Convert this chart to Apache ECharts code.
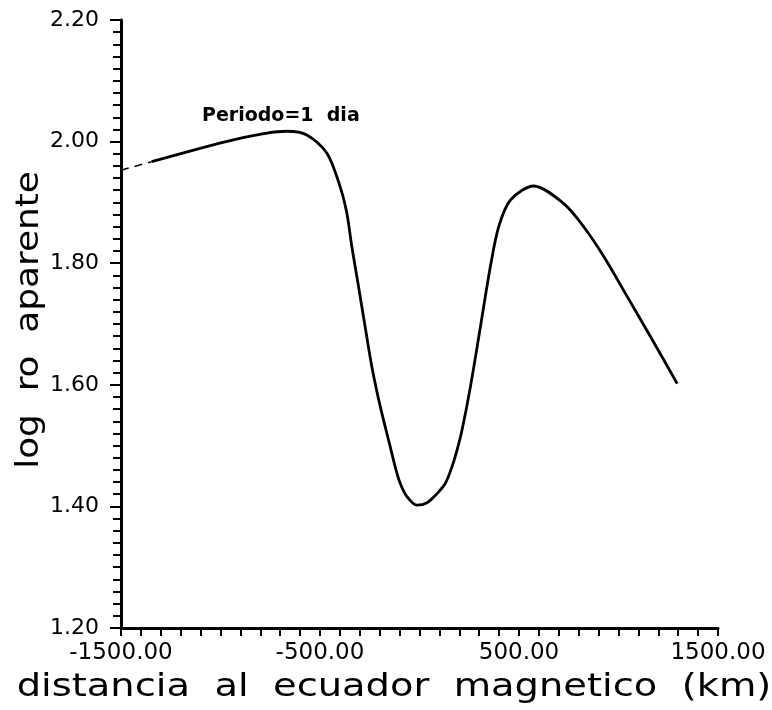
<!DOCTYPE html>
<html>
<head>
<meta charset="utf-8">
<script src="https://cdn.jsdelivr.net/npm/echarts@6/dist/echarts.min.js"></script>
<style>html,body{margin:0;padding:0;background:#fff}#c{width:772px;height:710px}</style>
</head>
<body>
<div id="c"></div>
<script>
// distance to magnetic equator (km)
const distDashed = [-1500, -1346];
const valDashed  = [1.953, 1.967];
const dist = [-1346, -1103, -935, -767, -667, -566, -465, -399, -365, -340, -306, -273, -239, -197, -147, -122, -97, -63, -13, 38, 88, 130, 163, 189, 214, 256, 306, 356, 398, 457, 574, 725, 825, 926, 1044, 1161, 1295];
const logRo = [1.967, 1.989, 2.003, 2.014, 2.017, 2.011, 1.981, 1.926, 1.882, 1.827, 1.761, 1.695, 1.629, 1.564, 1.498, 1.465, 1.438, 1.416, 1.402, 1.406, 1.421, 1.438, 1.465, 1.493, 1.526, 1.597, 1.695, 1.794, 1.860, 1.904, 1.927, 1.898, 1.860, 1.811, 1.745, 1.679, 1.602];
const xMajor = [-1500, -500, 500, 1500];
const yTicks = [1.20, 1.40, 1.60, 1.80, 2.00, 2.20];
const annotation = 'Periodo=1  dia';
const xName = 'distancia  al  ecuador  magnetico  (km)';
const yName = 'log  ro  aparente';

const chart = echarts.init(document.getElementById('c'), null, {renderer: 'canvas'});
const font = '"DejaVu Sans", sans-serif';
chart.setOption({
  animation: false,
  backgroundColor: '#fff',
  grid: {left: 121, right: 54, top: 20, bottom: 82, containLabel: false},
  title: {
    text: annotation,
    left: 197, top: 102,
    textStyle: {fontFamily: font, fontSize: 19, fontWeight: 'bold', color: '#000'}
  },
  graphic: [
    {
      type: 'text', x: 394, y: 688, scaleX: 1.2,
      style: {text: xName, fontFamily: font, fontSize: 32, fill: '#000', textAlign: 'center', textVerticalAlign: 'middle'}
    },
    {
      type: 'text', x: 30, y: 320, rotation: Math.PI / 2, scaleX: 1.12,
      style: {text: yName, fontFamily: font, fontSize: 32, fill: '#000', textAlign: 'center', textVerticalAlign: 'middle'}
    }
  ],
  xAxis: {
    type: 'value', min: -1500, max: 1500, interval: 100,
    axisLine: {show: true, onZero: false, lineStyle: {color: '#000', width: 3}},
    axisTick: {show: true, inside: false, length: 8, lineStyle: {color: '#000', width: 2}},
    axisLabel: {
      margin: 14, color: '#000', fontFamily: font, fontSize: 23,
      formatter: v => xMajor.indexOf(Math.round(v)) >= 0 ? String(v.toFixed(2)) : ''
    },
    splitLine: {show: false}
  },
  yAxis: {
    type: 'value', min: 1.2, max: 2.2, interval: 0.2,
    axisLine: {show: true, onZero: false, lineStyle: {color: '#000', width: 3}},
    axisTick: {show: true, inside: false, length: 11, lineStyle: {color: '#000', width: 2}},
    minorTick: {show: true, splitNumber: 10, length: 8, lineStyle: {color: '#000', width: 2}},
    axisLabel: {
      margin: 22, color: '#000', fontFamily: font, fontSize: 22,
      formatter: v => {
        const r = Math.round(v * 100) / 100;
        return yTicks.indexOf(r) >= 0 ? r.toFixed(2) : '';
      }
    },
    splitLine: {show: false}
  },
  series: [
    {
      type: 'line', data: distDashed.map((d, i) => [d, valDashed[i]]),
      showSymbol: false, smooth: false,
      lineStyle: {color: '#000', width: 1.5, type: [8, 6]}
    },
    {
      type: 'line', data: dist.map((d, i) => [d, logRo[i]]),
      showSymbol: false, smooth: 0.3,
      lineStyle: {color: '#000', width: 2.8}
    }
  ]
});
</script>
</body>
</html>
